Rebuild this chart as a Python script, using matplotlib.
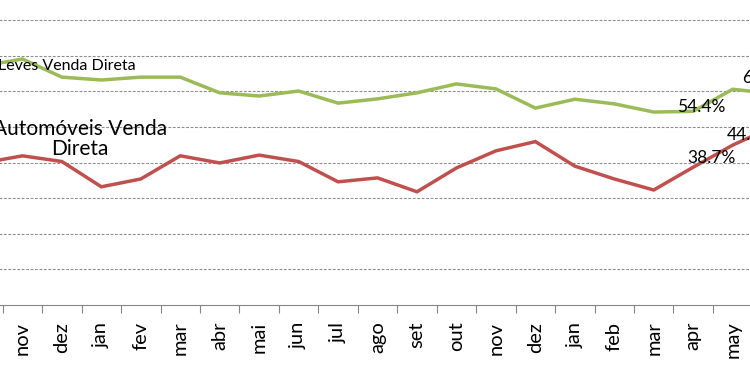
import matplotlib
matplotlib.use('Agg')
import matplotlib.pyplot as plt
import numpy as np

plt.rcParams['font.family'] = ['Lato', 'DejaVu Sans']

# meses (o primeiro e o último ficam cortados nas bordas)
meses = ["out", "nov", "dez", "jan", "fev", "mar", "abr", "mai", "jun", "jul", "ago",
         "set", "out", "nov", "dez", "jan", "feb", "mar", "apr", "may", "jun"]

# participação da venda direta (%)
leves = [67.1, 69.1, 64.0, 63.2, 64.0, 64.0, 59.6, 58.7, 60.1, 56.7, 57.9,
         59.6, 62.1, 60.7, 55.3, 57.8, 56.5, 54.2, 54.4, 60.6, 59.4]
autos = [39.9, 41.9, 40.3, 33.2, 35.4, 41.9, 39.9, 42.1, 40.3, 34.6, 35.7,
         31.8, 38.5, 43.3, 45.9, 39.0, 35.4, 32.3, 38.7, 44.9, 50.0]

cor_leves = '#9bbb59'
cor_autos = '#c0504d'

fig = plt.figure(figsize=(7.5, 3.75), dpi=100)
# eixo maior que a figura: o gráfico original foi recortado nas laterais
ax = fig.add_axes([-0.049, 0.1867, 1.1048, 0.8544])

x = np.arange(len(meses))
ax.plot(x, leves, color=cor_leves, linewidth=2.5, solid_joinstyle='miter')
ax.plot(x, autos, color=cor_autos, linewidth=2.5, solid_joinstyle='miter')

ax.set_xlim(-0.5, len(meses) - 0.5)
ax.set_ylim(0, 90)
ax.set_yticks(np.arange(10, 90, 10))
ax.yaxis.grid(True, color='#8c8c8c', linestyle=(0, (2.5, 1.5)), linewidth=0.8)
ax.tick_params(axis='y', left=False, labelleft=False)

ax.set_xticks(x)
ax.set_xticklabels(meses, rotation=90, fontsize=14.5)
ax.get_xticklabels()[0].set_visible(False)  # fora do recorte
ax.set_xticks(np.arange(-0.5, len(meses), 1), minor=True)
ax.tick_params(axis='x', which='major', length=0, pad=12)
ax.tick_params(axis='x', which='minor', length=5.5, color='#868686', width=0.8)

for s in ['top', 'right', 'left']:
    ax.spines[s].set_visible(False)
ax.spines['bottom'].set_color('#868686')
ax.spines['bottom'].set_linewidth(0.8)

# rótulos de dados
ax.annotate('54.4%', (18, leves[18]), xytext=(6, 3), textcoords='offset points',
            ha='center', va='center', fontsize=12.5)
ax.annotate('38.7%', (18, autos[18]), xytext=(13, 6.5), textcoords='offset points',
            ha='center', va='center', fontsize=12.5)
ax.annotate('44.9%', (19, autos[19]), xytext=(-4, 7), textcoords='offset points',
            ha='left', va='center', fontsize=12.5)
ax.annotate('60.6%', (19, leves[19]), xytext=(6.5, 8), textcoords='offset points',
            ha='left', va='center', fontsize=12.5)

# nomes das séries
fig.text(-0.002, 1 - 66 / 375, 'Leves Venda Direta', ha='left', va='center', fontsize=11.5)
fig.text(80 / 750, 1 - 139 / 375, 'Automóveis Venda\nDireta', ha='center', va='center',
         fontsize=15, linespacing=1.05)

plt.savefig('out.png', dpi=100)
